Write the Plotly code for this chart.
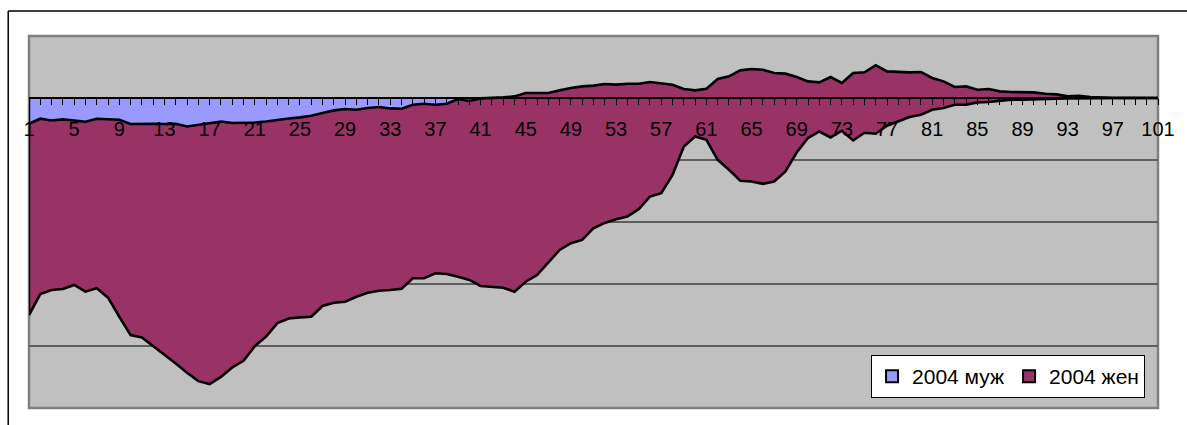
import plotly.graph_objects as go

categories = list(range(1, 102))
tick_labels = [str(i) for i in range(1, 102, 4)]

muzh = [
    -415, -334, -362, -345, -362, -383, -335, -340, -350, -420,
    -415, -415, -420, -415, -459, -431, -415, -378, -404, -404,
    -394, -378, -351, -330, -313, -286, -242, -200, -178, -189,
    -162, -145, -168, -173, -108, -92, -108, -92, -16, -48,
    -6, 0, 10, 26, 81, 81, 81, 123, 162, 187,
    199, 226, 215, 231, 231, 258, 231, 215, 145, 123,
    150, 307, 349, 446, 468, 457, 404, 393, 339, 268,
    252, 339, 242, 404, 414, 527, 430, 420, 414, 420,
    323, 268, 178, 187, 134, 145, 107, 97, 90, 90,
    69, 58, 26, 37, 16, 5, 3, 2, 1, 1,
    0,
]

zhen = [
    -3086, -2828, -2735, -2736, -2654, -2741, -2734, -2881, -3178, -3404,
    -3446, -3582, -3727, -3866, -3974, -4136, -4201, -4120, -3942, -3835,
    -3608, -3470, -3279, -3227, -3225, -3242, -3113, -3102, -3108, -3016,
    -2979, -2963, -2929, -2903, -2800, -2816, -2719, -2746, -2866, -2887,
    -3026, -3044, -3070, -3150, -3044, -2936, -2737, -2574, -2504, -2476,
    -2299, -2241, -2170, -2144, -2024, -1848, -1766, -1454, -927, -743,
    -824, -1304, -1507, -1782, -1815, -1841, -1751, -1579, -1218, -914,
    -792, -976, -770, -1089, -975, -1104, -877, -798, -721, -690,
    -512, -430, -286, -295, -205, -210, -151, -124, -117, -109,
    -85, -69, -34, -42, -19, -5, -3, -2, -1, -1,
    0,
]

series_names = ["2004 муж", "2004 жен"]
series_colors = ["#9999FF", "#993366"]

FONT = "Arial, 'Liberation Sans', sans-serif"

fig = go.Figure()
for name, vals, col in zip(series_names, [muzh, zhen], series_colors):
    fig.add_trace(go.Scatter(
        x=categories, y=vals, name=name, stackgroup="one",
        mode="lines", line=dict(color="black", width=2.6),
        fillcolor=col, showlegend=False, hoverinfo="skip",
    ))
# legend entries (Excel-like square keys)
for name, col in zip(series_names, series_colors):
    fig.add_trace(go.Scatter(
        x=[None], y=[None], name=name, mode="markers",
        marker=dict(symbol="square", size=12, color=col,
                    line=dict(color="black", width=1.5)),
    ))

ymin, ymax = -5000, 1000
total_first = muzh[0] + zhen[0]

fig.update_layout(
    width=1187, height=425,
    margin=dict(l=29, r=17, t=36, b=17),
    paper_bgcolor="white", plot_bgcolor="#C0C0C0",
    font=dict(family=FONT, size=20, color="black"),
    hovermode=False,
    xaxis=dict(
        range=[1, 101], anchor="free", position=(0 - ymin) / (ymax - ymin),
        tickmode="array", tickvals=list(range(1, 102, 4)), ticktext=tick_labels,
        ticks="outside", ticklen=6, tickwidth=1, tickcolor="black",
        minor=dict(dtick=1, tick0=1, ticks="outside", ticklen=6, tickwidth=1,
                   tickcolor="black", showgrid=False),
        showline=True, linecolor="black", linewidth=2,
        showgrid=False, zeroline=False,
        ticklabelstandoff=7,
        tickfont=dict(family=FONT, size=20, color="black"),
    ),
    yaxis=dict(
        range=[ymin, ymax], tick0=0, dtick=1000,
        showticklabels=False, ticks="", showgrid=True,
        gridcolor="#5f5f5f", gridwidth=1.5, zeroline=False, showline=False,
    ),
    legend=dict(
        orientation="h", x=(880 - 29) / 1141, y=(408 - 355) / 372,
        xanchor="left", yanchor="top", traceorder="normal",
        bgcolor="white", bordercolor="black", borderwidth=1,
        font=dict(family=FONT, size=21, color="black"),
        itemsizing="constant", tracegroupgap=0, itemwidth=30,
    ),
    shapes=[
        # plot area border
        dict(type="rect", xref="paper", yref="paper", x0=0, y0=0, x1=1, y1=1,
             line=dict(color="#808080", width=2.5), layer="below"),
        # left vertical edge of the area outline
        dict(type="line", xref="x", yref="y", x0=categories[0], x1=categories[0],
             y0=0, y1=total_first, line=dict(color="black", width=2.5), layer="above"),
        # outer chart border (top and left edges visible)
        dict(type="line", xref="paper", yref="paper",
             x0=(8 - 29) / 1141, x1=1.2, y0=(408 - 11) / 372, y1=(408 - 11) / 372,
             line=dict(color="black", width=1.5)),
        dict(type="line", xref="paper", yref="paper",
             x0=(8 - 29) / 1141, x1=(8 - 29) / 1141, y0=(408 - 11) / 372, y1=-0.2,
             line=dict(color="black", width=1.5)),
    ],
)

fig.write_html("out.html")
